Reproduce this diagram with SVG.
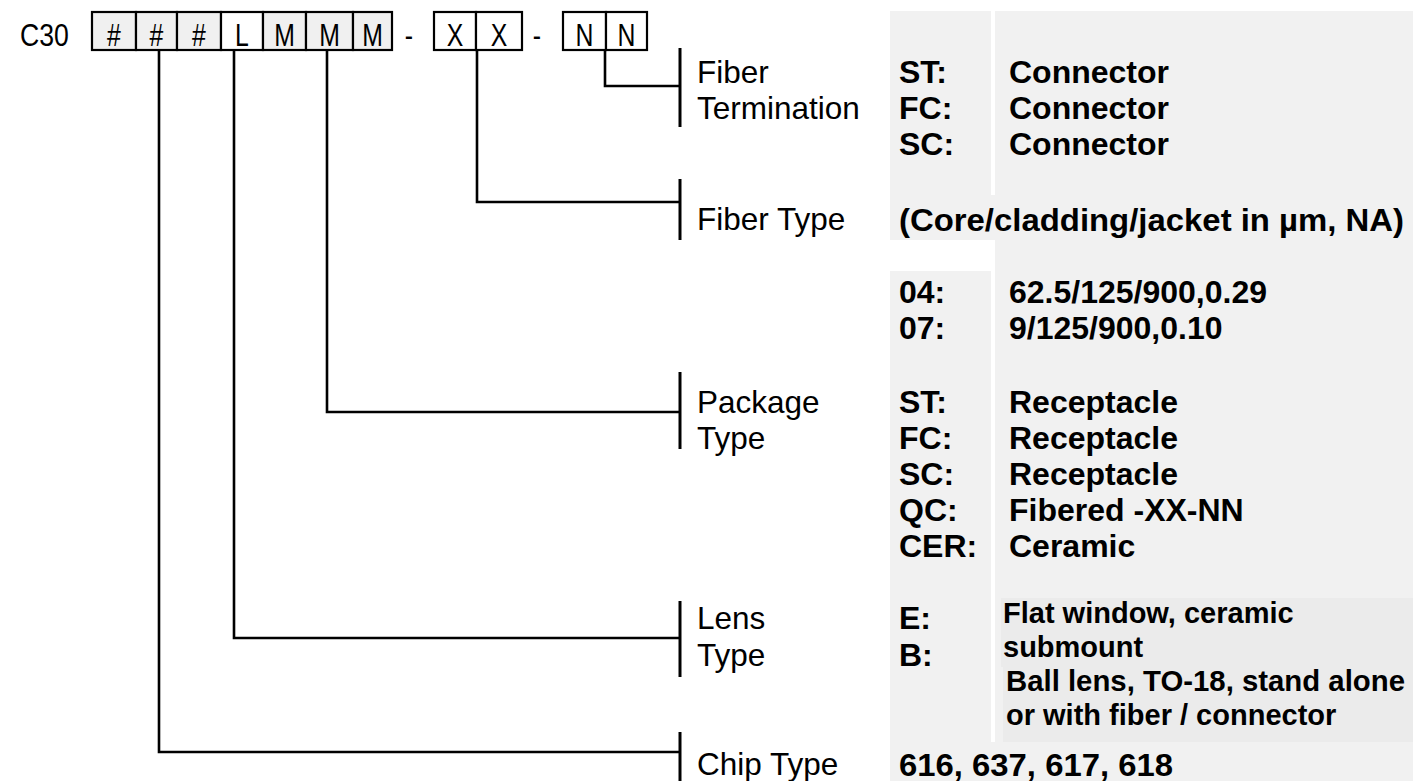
<svg xmlns="http://www.w3.org/2000/svg" width="1413" height="781" viewBox="0 0 1413 781">
<defs>
<style>
text{font-family:"Liberation Sans",Arial,Helvetica,sans-serif;fill:#000}
.bx{fill:#f0f0f0;stroke:#000;stroke-width:2.2}
.bw{fill:#fff;stroke:#000;stroke-width:2.2}
.ch{font-size:31px;text-anchor:middle}
.lbl{font-size:31.5px}
.val{font-size:32px;font-weight:bold}
.lens{font-size:29px;font-weight:bold}
.pan{fill:#f1f1f1}
.lp{fill:#ebebeb}
.wire{fill:none;stroke:#000;stroke-width:2.6}
.brk{fill:none;stroke:#000;stroke-width:3}
</style>
</defs>
<rect width="1413" height="781" fill="#fff"/>

<g id="panels">
<rect class="pan" x="995" y="11" width="418" height="770"/>
<rect class="pan" x="890" y="11" width="101" height="229"/>
<rect class="pan" x="890" y="195" width="523" height="45"/>
<rect class="pan" x="890" y="271" width="101" height="510"/>
<rect class="pan" x="890" y="742" width="523" height="39"/>
<rect class="lp" x="1001" y="598" width="412" height="69"/>
<rect class="lp" x="1003" y="667" width="410" height="75"/>
</g>

<g id="code">
<text transform="translate(20,46) scale(0.86,1)" style="font-size:31px">C30</text>
<rect class="bx" x="92" y="12" width="44" height="38"/>
<rect class="bx" x="136" y="12" width="41" height="38"/>
<rect class="bx" x="177" y="12" width="44" height="38"/>
<rect class="bw" x="221" y="12" width="42" height="38"/>
<rect class="bx" x="263" y="12" width="43" height="38"/>
<rect class="bx" x="306" y="12" width="47" height="38"/>
<rect class="bx" x="353" y="12" width="39" height="38"/>
<rect class="bw" x="434" y="12" width="42" height="38"/>
<rect class="bw" x="476" y="12" width="46" height="38"/>
<rect class="bw" x="563" y="12" width="43" height="38"/>
<rect class="bw" x="606" y="12" width="41" height="38"/>
<text class="ch" transform="translate(114,46) scale(0.8,1)">#</text>
<text class="ch" transform="translate(156.5,46) scale(0.8,1)">#</text>
<text class="ch" transform="translate(199,46) scale(0.8,1)">#</text>
<text class="ch" transform="translate(242,46) scale(0.8,1)">L</text>
<text class="ch" transform="translate(284.5,46) scale(0.8,1)">M</text>
<text class="ch" transform="translate(329.5,46) scale(0.8,1)">M</text>
<text class="ch" transform="translate(372.5,46) scale(0.8,1)">M</text>
<text class="ch" transform="translate(409,46) scale(0.8,1)">-</text>
<text class="ch" transform="translate(455,46) scale(0.8,1)">X</text>
<text class="ch" transform="translate(499,46) scale(0.8,1)">X</text>
<text class="ch" transform="translate(537,46) scale(0.8,1)">-</text>
<text class="ch" transform="translate(584.5,46) scale(0.8,1)">N</text>
<text class="ch" transform="translate(626.5,46) scale(0.8,1)">N</text>
</g>

<g id="connectors">
<path class="wire" d="M605,50 V86 H679"/>
<path class="wire" d="M477,50 V202 H679"/>
<path class="wire" d="M327,50 V412 H679"/>
<path class="wire" d="M234,50 V638 H679"/>
<path class="wire" d="M159,50 V752 H679"/>
<path class="brk" d="M680,48 V127"/>
<path class="brk" d="M680,179 V240"/>
<path class="brk" d="M680,372 V449"/>
<path class="brk" d="M680,601 V677"/>
<path class="brk" d="M680,732 V781"/>
</g>

<g id="fiber-termination">
<text class="lbl" x="697" y="83">Fiber</text>
<text class="lbl" x="697" y="119">Termination</text>
<text class="val" x="899" y="83">ST:</text>
<text class="val" x="899" y="119">FC:</text>
<text class="val" x="899" y="155">SC:</text>
<text class="val" x="1009" y="83">Connector</text>
<text class="val" x="1009" y="119">Connector</text>
<text class="val" x="1009" y="155">Connector</text>
</g>

<g id="fiber-type">
<text class="lbl" x="697" y="230">Fiber Type</text>
<text class="val" x="899" y="231" textLength="505" lengthAdjust="spacingAndGlyphs">(Core/cladding/jacket in µm, NA)</text>
<text class="val" x="899" y="303">04:</text>
<text class="val" x="899" y="339">07:</text>
<text class="val" x="1009" y="303">62.5/125/900,0.29</text>
<text class="val" x="1009" y="339">9/125/900,0.10</text>
</g>

<g id="package-type">
<text class="lbl" x="697" y="413">Package</text>
<text class="lbl" x="697" y="449">Type</text>
<text class="val" x="899" y="413">ST:</text>
<text class="val" x="899" y="449">FC:</text>
<text class="val" x="899" y="485">SC:</text>
<text class="val" x="899" y="521">QC:</text>
<text class="val" x="899" y="557">CER:</text>
<text class="val" x="1009" y="413">Receptacle</text>
<text class="val" x="1009" y="449">Receptacle</text>
<text class="val" x="1009" y="485">Receptacle</text>
<text class="val" x="1009" y="521">Fibered -XX-NN</text>
<text class="val" x="1009" y="557">Ceramic</text>
</g>

<g id="lens-type">
<text class="lbl" x="697" y="629">Lens</text>
<text class="lbl" x="697" y="666">Type</text>
<text class="val" x="899" y="629">E:</text>
<text class="val" x="899" y="666">B:</text>
<text class="lens" x="1003" y="623">Flat window, ceramic</text>
<text class="lens" x="1003" y="657">submount</text>
<text class="lens" x="1006" y="691" textLength="399" lengthAdjust="spacingAndGlyphs">Ball lens, TO-18, stand alone</text>
<text class="lens" x="1006" y="725">or with fiber / connector</text>
</g>

<g id="chip-type">
<text class="lbl" x="697" y="775">Chip Type</text>
<text class="val" x="899" y="776" textLength="274" lengthAdjust="spacingAndGlyphs">616, 637, 617, 618</text>
</g>
</svg>
